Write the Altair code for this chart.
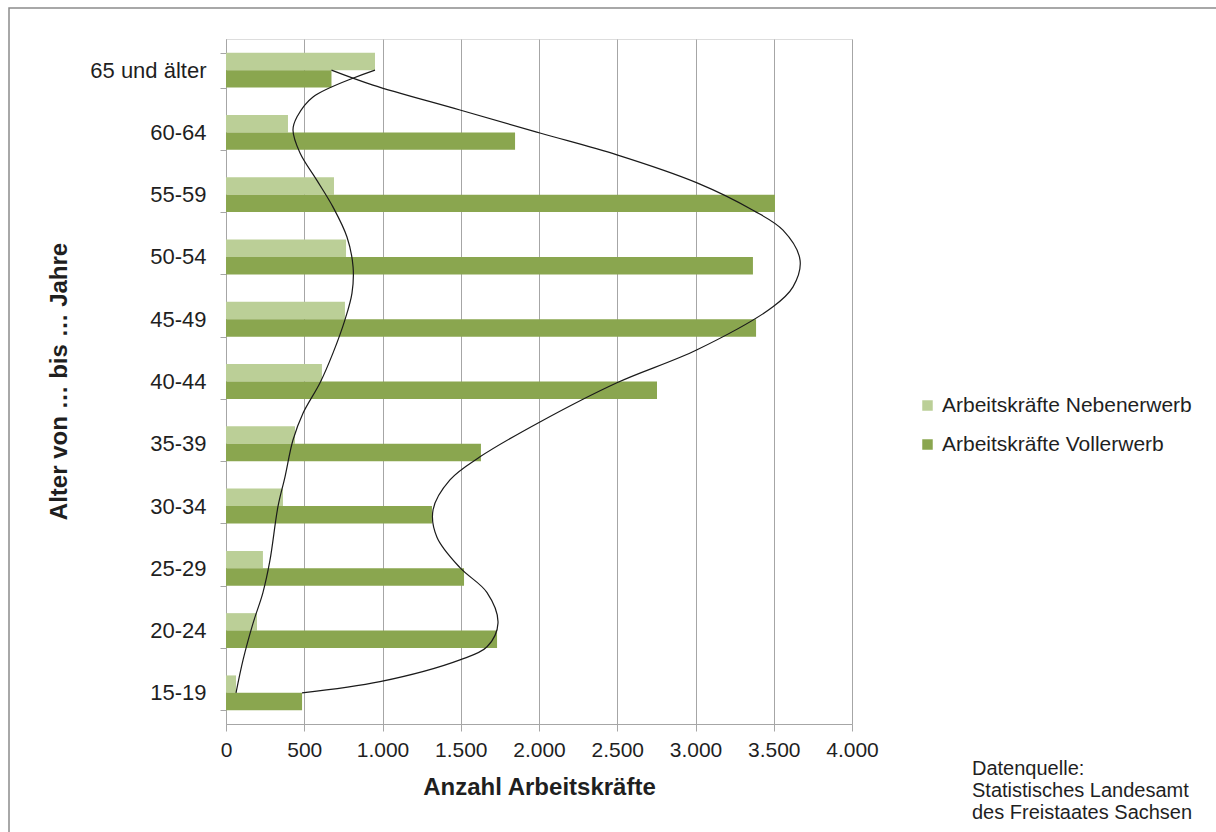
import altair as alt
import pandas as pd

# ---- data ----
categories = ["65 und älter", "60-64", "55-59", "50-54", "45-49", "40-44",
              "35-39", "30-34", "25-29", "20-24", "15-19"]
series_names = ["Arbeitskräfte Nebenerwerb", "Arbeitskräfte Vollerwerb"]
nebenerwerb = [952, 396, 690, 767, 760, 613, 441, 364, 236, 198, 64]
vollerwerb = [674, 1847, 3508, 3367, 3387, 2754, 1629, 1316, 1521, 1732, 486]

# smooth black curves (position in category index, 0 = "65 und älter")
kurve_voll_pos = [0, 0.24, 0.64, 1.01, 1.36, 1.81, 2.25, 2.57, 3.05, 3.48, 3.80,
                  4.49, 5.02, 5.65, 6.21, 6.58, 7.06, 7.50, 7.99, 8.39, 8.88,
                  9.26, 9.47, 9.82, 10.0]
kurve_voll_wert = [674, 939, 1495, 2006, 2498, 3010, 3367, 3559, 3668, 3623, 3495,
                   3010, 2498, 2006, 1623, 1431, 1323, 1348, 1495, 1668, 1738,
                   1668, 1495, 984, 486]
kurve_neben_pos = [0, 0.43, 0.75, 0.96, 1.33, 1.77, 2.20, 2.68, 3.16, 3.58, 4.01,
                   4.54, 5.02, 5.51, 5.94, 6.53, 7.01, 7.87, 8.39, 8.88, 9.47, 10.0]
kurve_neben_wert = [952, 556, 454, 428, 473, 581, 684, 773, 812, 805, 760,
                    684, 601, 492, 428, 377, 332, 281, 236, 173, 109, 64]

x_ticks = [0, 500, 1000, 1500, 2000, 2500, 3000, 3500, 4000]
colors = ["#BBCF97", "#8AA64F"]
source_lines = "Datenquelle:\nStatistisches Landesamt\ndes Freistaates Sachsen"

# ---- tables ----
bars_df = pd.DataFrame({
    "Alter": categories * 2,
    "Reihe": [series_names[0]] * len(categories) + [series_names[1]] * len(categories),
    "Wert": nebenerwerb + vollerwerb,
})
curve_df = pd.concat([
    pd.DataFrame({"Kurve": "voll", "Pos": kurve_voll_pos, "Wert": kurve_voll_wert}),
    pd.DataFrame({"Kurve": "neben", "Pos": kurve_neben_pos, "Wert": kurve_neben_wert}),
])

FONT = "Liberation Sans"
GRID = "#A6A6A6"
TXT = "#1F1F1F"

x_enc = alt.X(
    "Wert:Q",
    scale=alt.Scale(domain=[0, 4000], nice=False),
    axis=alt.Axis(
        values=x_ticks,
        labelExpr="replace(format(datum.value, ','), ',', '.')",
        title="Anzahl Arbeitskräfte",
        titleFontSize=24, titleFontWeight="bold", titleColor=TXT,
        titleBaseline="top", titleY=51,
        labelFontSize=21, labelColor=TXT, labelPadding=8,
        grid=True, gridColor=GRID, gridWidth=1,
        domainColor=GRID, tickColor=GRID, tickSize=7,
        labelFlush=False,
    ),
)

bars = alt.Chart(bars_df).mark_bar().encode(
    x=x_enc,
    y=alt.Y(
        "Alter:N", sort=categories,
        scale=alt.Scale(paddingInner=0.44, paddingOuter=0.22),
        axis=alt.Axis(
            title="Alter von … bis … Jahre",
            titleFontSize=24, titleFontWeight="bold", titleColor=TXT,
            titleX=-155, titleY=342,
            labelFontSize=22, labelColor=TXT, labelPadding=14,
            tickBand="extent", tickColor=GRID, tickSize=6,
            domainColor=GRID, grid=False,
        ),
    ),
    yOffset=alt.YOffset("Reihe:N", sort=series_names),
    color=alt.Color(
        "Reihe:N", sort=series_names,
        scale=alt.Scale(domain=series_names, range=colors),
        legend=alt.Legend(
            title=None, orient="none", legendX=691, legendY=356,
            symbolType="square", symbolSize=110, symbolStrokeWidth=0,
            labelFontSize=21, labelColor=TXT, labelOffset=4, labelLimit=400,
            rowPadding=17, padding=0,
        ),
    ),
)

curves = alt.Chart(curve_df).mark_line(
    interpolate="catmull-rom", color="#1A1A1A", strokeWidth=1.2
).encode(
    x=alt.X("Wert:Q", scale=alt.Scale(domain=[0, 4000], nice=False),
            title="Anzahl Arbeitskräfte"),
    y=alt.Y("Pos:Q", scale=alt.Scale(domain=[10.5, -0.5], nice=False, zero=False),
            axis=None),
    detail="Kurve:N",
    order="Pos:Q",
)

dummy = pd.DataFrame({"a": [0]})
source = alt.Chart(dummy).mark_text(
    align="left", baseline="top", fontSize=20, lineHeight=22,
    lineBreak="\n", color=TXT, font=FONT,
).encode(
    x=alt.value(746), y=alt.value(720), text=alt.value(source_lines)
)

border = alt.Chart(dummy).mark_rect(
    fill=None, stroke="#8C8C8C", strokeWidth=1.5
).encode(
    x=alt.value(-217), x2=alt.value(1000), y=alt.value(-31), y2=alt.value(820)
)

chart = alt.layer(border, bars, curves, source).resolve_scale(
    y="independent"
).properties(
    width=626, height=685,
    padding={"left": 226, "top": 39, "right": 364, "bottom": 108},
    autosize=alt.AutoSizeParams(type="none"),
    background="white",
).configure_view(stroke=None).configure(font=FONT)

chart.save("out.html", embed_options={"renderer": "svg", "actions": False})
